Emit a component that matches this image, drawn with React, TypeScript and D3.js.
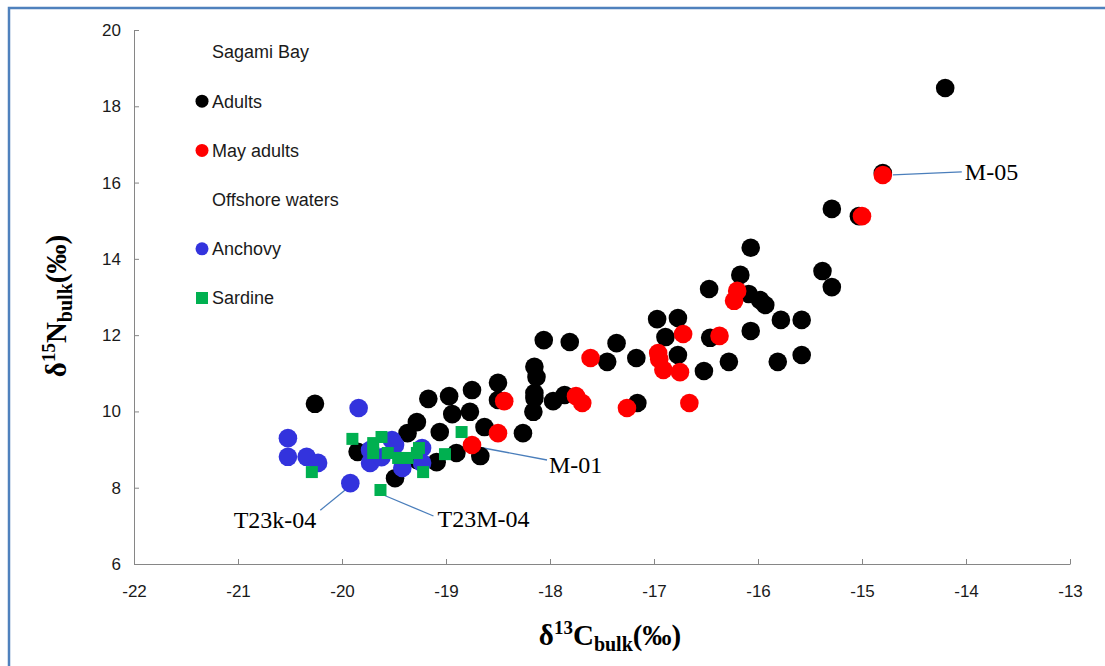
import React, { useEffect, useRef } from "react";
import * as d3 from "d3";

type Pt = [number, number];

// [δ13C, δ15N]
const adults: Pt[] = [
  [-14.2, 18.48], [-14.8, 16.25], [-15.29, 15.31], [-15.03, 15.12],
  [-16.07, 14.29], [-16.17, 13.58], [-16.47, 13.21], [-16.09, 13.08],
  [-15.98, 12.92], [-15.93, 12.79], [-15.38, 13.68], [-15.29, 13.26],
  [-15.78, 12.4], [-15.58, 12.4], [-16.07, 12.11], [-15.81, 11.3],
  [-15.58, 11.48], [-16.97, 12.42], [-16.77, 12.45], [-16.89, 11.95],
  [-16.46, 11.93], [-16.28, 11.3], [-16.52, 11.06], [-16.77, 11.48],
  [-17.17, 11.4], [-17.36, 11.79], [-17.45, 11.3], [-18.06, 11.87],
  [-17.81, 11.82], [-18.15, 11.17], [-18.13, 10.9], [-18.15, 10.48],
  [-18.15, 10.35], [-18.16, 9.99], [-17.97, 10.27], [-17.86, 10.43],
  [-17.16, 10.22], [-18.5, 10.75], [-18.5, 10.3], [-18.75, 10.56],
  [-18.97, 10.4], [-19.17, 10.33], [-18.94, 9.93], [-18.77, 9.99],
  [-19.28, 9.72], [-19.37, 9.43], [-19.06, 9.46], [-18.63, 9.59],
  [-18.26, 9.43], [-18.67, 8.83], [-18.9, 8.91], [-19.09, 8.67],
  [-19.49, 8.25], [-19.85, 8.94], [-20.26, 10.2], [-19.28, 8.73],
];

const mayAdults: Pt[] = [
  [-14.8, 16.2], [-15.0, 15.12], [-16.2, 13.16], [-16.23, 12.9],
  [-16.72, 12.03], [-16.37, 11.98], [-16.96, 11.53], [-16.95, 11.37],
  [-16.91, 11.09], [-16.75, 11.03], [-17.61, 11.4], [-17.75, 10.4],
  [-17.69, 10.22], [-17.26, 10.09], [-16.66, 10.22], [-18.44, 10.27],
  [-18.5, 9.43], [-18.75, 9.12],
];

const anchovy: Pt[] = [
  [-20.52, 9.3], [-20.52, 8.81], [-20.34, 8.81], [-20.23, 8.65],
  [-19.92, 8.12], [-19.84, 10.09], [-19.73, 8.99], [-19.73, 8.65],
  [-19.52, 9.25], [-19.49, 9.12], [-19.42, 8.52], [-19.23, 9.04],
  [-19.23, 8.65], [-19.62, 8.8],
];

const sardine: Pt[] = [
  [-19.9, 9.28], [-19.7, 9.17], [-19.7, 8.91], [-19.62, 9.33],
  [-19.56, 8.91], [-19.46, 8.78], [-19.37, 8.78], [-19.28, 8.91],
  [-19.26, 9.04], [-19.22, 8.41], [-19.01, 8.88], [-18.85, 9.46],
  [-20.29, 8.41], [-19.63, 7.94],
];

const xTicks = [-22, -21, -20, -19, -18, -17, -16, -15, -14, -13];
const yTicks = [6, 8, 10, 12, 14, 16, 18, 20];

const legendLabels = ["Sagami Bay", "Adults", "May adults", "Offshore waters", "Anchovy", "Sardine"];

// labelled samples
const labelNames = ["M-05", "M-01", "T23k-04", "T23M-04"];
const labelPoints: Pt[] = [[-14.8, 16.2], [-18.75, 9.12], [-19.92, 8.12], [-19.63, 7.94]];

const serif = "'Liberation Serif', 'Times New Roman', serif";
const sans = "'Liberation Sans', Arial, sans-serif";

const draw = (node: SVGSVGElement) => {
  const svg = d3.select(node);
  svg.selectAll("*").remove();

  const x = d3.scaleLinear().domain([-22, -13]).range([134, 1070]);
  const y = d3.scaleLinear().domain([6, 20]).range([564, 30]);

  svg.append("rect").attr("width", 1105).attr("height", 666).attr("fill", "#fff");

  // chart frame (runs off the right and bottom of the picture)
  svg
    .append("rect")
    .attr("x", 9)
    .attr("y", 8)
    .attr("width", 1200)
    .attr("height", 800)
    .attr("fill", "none")
    .attr("stroke", "#4F81BD")
    .attr("stroke-width", 2.5);

  // axes (plain hyphen for the minus sign, as in the original)
  const fmt = (d: d3.NumberValue) => String(d);
  const gx = svg
    .append("g")
    .attr("transform", "translate(0,564)")
    .call(
      d3.axisBottom(x).tickValues(xTicks).tickFormat(fmt).tickSizeInner(-5).tickSizeOuter(0).tickPadding(21)
    );
  const gy = svg
    .append("g")
    .attr("transform", "translate(134,0)")
    .call(
      d3.axisLeft(y).tickValues(yTicks).tickFormat(fmt).tickSizeInner(-5).tickSizeOuter(0).tickPadding(13)
    );

  [gx, gy].forEach((g) => {
    g.attr("font-family", sans).attr("font-size", 17);
    g.select(".domain").attr("stroke", "#868686");
    g.selectAll(".tick line").attr("stroke", "#868686");
    g.selectAll(".tick text").attr("fill", "#1a1a1a");
  });

  // axis titles
  const xt = svg
    .append("text")
    .attr("x", 610)
    .attr("y", 645)
    .attr("text-anchor", "middle")
    .attr("font-family", serif)
    .attr("font-weight", "bold")
    .attr("font-size", 29);
  xt.append("tspan").text("δ");
  xt.append("tspan").attr("font-size", 19).attr("dy", -11).text("13");
  xt.append("tspan").attr("dy", 11).text("C");
  xt.append("tspan").attr("font-size", 20).attr("dy", 6).text("bulk");
  xt.append("tspan").attr("dy", -6).text("(‰)");

  const yt = svg
    .append("text")
    .attr("transform", "translate(66,306) rotate(-90)")
    .attr("text-anchor", "middle")
    .attr("font-family", serif)
    .attr("font-weight", "bold")
    .attr("font-size", 29);
  yt.append("tspan").text("δ");
  yt.append("tspan").attr("font-size", 19).attr("dy", -11).text("15");
  yt.append("tspan").attr("dy", 11).text("N");
  yt.append("tspan").attr("font-size", 20).attr("dy", 6).text("bulk");
  yt.append("tspan").attr("dy", -6).text("(‰)");

  // leader lines and sample labels
  const lines = [
    [10, 0, 79, -3],
    [6, 2, 75, 15],
    [-3, 5, -30, 27],
    [3, 5, 53, 26],
  ];
  const texts = [
    [82, 5, "start"],
    [77, 28, "start"],
    [-34, 45, "end"],
    [57, 37, "start"],
  ];
  labelPoints.forEach((p, i) => {
    const px = x(p[0]);
    const py = y(p[1]);
    const [x1, y1, x2, y2] = lines[i];
    svg
      .append("line")
      .attr("x1", px + x1)
      .attr("y1", py + y1)
      .attr("x2", px + x2)
      .attr("y2", py + y2)
      .attr("stroke", "#4A7EBB")
      .attr("stroke-width", 1.3);
    svg
      .append("text")
      .attr("x", px + (texts[i][0] as number))
      .attr("y", py + (texts[i][1] as number))
      .attr("text-anchor", texts[i][2] as string)
      .attr("font-family", serif)
      .attr("font-size", 24)
      .attr("fill", "#000")
      .text(labelNames[i]);
  });

  // points: adults, May adults, anchovy, sardine
  const circles = (data: Pt[], color: string) =>
    svg
      .append("g")
      .selectAll("circle")
      .data(data)
      .enter()
      .append("circle")
      .attr("cx", (d) => x(d[0]))
      .attr("cy", (d) => y(d[1]))
      .attr("r", 9.3)
      .attr("fill", color);

  circles(adults, "#000000");
  circles(mayAdults, "#FF0000");
  circles(anchovy, "#3333DD");

  svg
    .append("g")
    .selectAll("rect")
    .data(sardine)
    .enter()
    .append("rect")
    .attr("x", (d) => x(d[0]) - 6)
    .attr("y", (d) => y(d[1]) - 6)
    .attr("width", 12)
    .attr("height", 12)
    .attr("fill", "#00B050");

  // legend
  const legendColors = [null, "#000000", "#FF0000", null, "#3333DD", "#00B050"];
  const leg = svg.append("g").attr("font-family", sans).attr("font-size", 18);
  legendLabels.forEach((label, i) => {
    const cy = 52 + i * 49.2;
    const c = legendColors[i];
    if (c && i === 5) {
      leg.append("rect").attr("x", 196).attr("y", cy - 6).attr("width", 12).attr("height", 12).attr("fill", c);
    } else if (c) {
      leg.append("circle").attr("cx", 202).attr("cy", cy).attr("r", 6.5).attr("fill", c);
    }
    leg
      .append("text")
      .attr("x", 212)
      .attr("y", cy)
      .attr("dy", "0.35em")
      .attr("fill", "#1a1a1a")
      .text(label);
  });
};

const App = () => {
  const ref = useRef<SVGSVGElement | null>(null);

  useEffect(() => {
    if (ref.current) draw(ref.current);
  }, []);

  return (
    <svg
      ref={ref}
      width={1105}
      height={666}
      style={{ position: "absolute", left: 0, top: 0, display: "block" }}
    />
  );
};

export default App;
